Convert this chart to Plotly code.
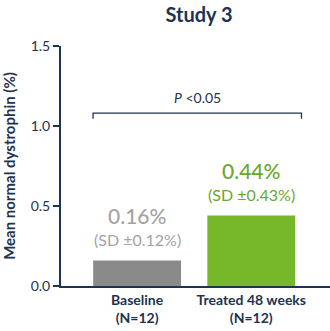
import plotly.graph_objects as go

categories = ["Baseline<br>(N=12)", "Treated 48 weeks<br>(N=12)"]
means = [0.16, 0.44]
sds = [0.12, 0.43]
bar_colors = ["#8a8a8a", "#76b82a"]
label_colors = ["#a3a3a3", "#6aa82a"]
yticks = [0.0, 0.5, 1.0, 1.5]
p_text = "<i>P</i> <0.05"

navy = "#1e3350"
font = "Lato"

fig = go.Figure()
fig.add_trace(go.Bar(
    x=[0, 1], y=means, marker_color=bar_colors, width=0.77,
    marker_line_width=0, showlegend=False,
))

for i, (m, s) in enumerate(zip(means, sds)):
    fig.add_annotation(x=i, y=m, xref="x", yref="y", yshift=45,
                       text=f"{m:.2f}%", showarrow=False,
                       font=dict(family=font, size=21, color=label_colors[i], weight=500))
    fig.add_annotation(x=i, y=m, xref="x", yref="y", yshift=21,
                       text=f"(SD ±{s:.2f}%)", showarrow=False,
                       font=dict(family=font, size=16, color=label_colors[i]))

# significance bracket
bx0, bx1, by, bh = -0.386, 1.44, 1.08, 0.035
fig.add_shape(type="path", xref="x", yref="y",
              path=f"M {bx0} {by-bh} L {bx0} {by} L {bx1} {by} L {bx1} {by-bh}",
              line=dict(color=navy, width=1.3))
fig.add_annotation(x=(bx0 + bx1) / 2, y=by, xref="x", yref="y", yshift=16,
                   text=p_text, showarrow=False,
                   font=dict(family=font, size=14, color=navy))

fig.update_layout(
    width=330, height=331,
    margin=dict(l=61, r=0, t=46, b=45),
    paper_bgcolor="white", plot_bgcolor="white",
    title=dict(text="<b>Study 3</b>", x=0.603, xanchor="center", y=0.975, yanchor="top",
               font=dict(family=font, size=20, color=navy)),
    font=dict(family=font, color=navy),
)
fig.update_xaxes(range=[-0.667, 1.69], tickvals=[0, 1], ticktext=categories,
                 showline=True, linecolor=navy, linewidth=2, ticks="",
                 showgrid=False, zeroline=False,
                 tickfont=dict(family=font, size=14, color=navy, weight="bold"))
fig.update_yaxes(range=[0, 1.5], tickvals=yticks, ticktext=[f"{v:.1f}" for v in yticks],
                 showline=True, linecolor=navy, linewidth=2, ticks="outside",
                 ticklen=6, tickwidth=1.5, tickcolor=navy, showgrid=False, zeroline=False,
                 tickfont=dict(family=font, size=14, color=navy),
                 title=dict(text="Mean normal dystrophin (%)", standoff=12,
                            font=dict(family=font, size=15, color=navy, weight="bold")))

fig.write_html("out.html")
